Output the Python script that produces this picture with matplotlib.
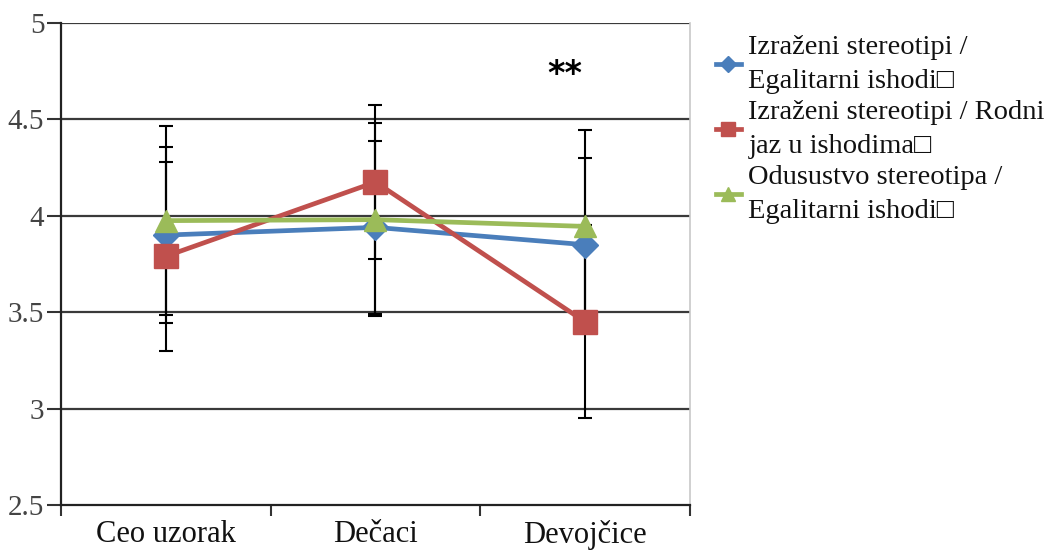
import matplotlib
matplotlib.use("Agg")
import matplotlib.pyplot as plt
import numpy as np

categories = ["Ceo uzorak", "Dečaci", "Devojčice"]
series_names = [
    "Izraženi stereotipi /\nEgalitarni ishodi\u25a1",
    "Izraženi stereotipi / Rodni\njaz u ishodima\u25a1",
    "Odusustvo stereotipa /\nEgalitarni ishodi\u25a1",
]
blue_vals = [3.90, 3.94, 3.85]
blue_err = [0.455, 0.45, 0.45]
red_vals = [3.79, 4.175, 3.45]
red_err = [0.49, 0.40, 0.50]
green_vals = [3.975, 3.98, 3.945]
green_err = [0.49, 0.50, 0.50]
y_ticks = [2.5, 3, 3.5, 4, 4.5, 5]
y_tick_labels = ["2.5", "3", "3.5", "4", "4.5", "5"]
annotation = "**"

serif = ["Liberation Serif", "DejaVu Serif"]
plt.rcParams["font.family"] = serif

fig = plt.figure(figsize=(10.54, 5.53), dpi=100)
ax = fig.add_axes([0.0579, 0.0868, 0.5967, 0.8716])

x = np.arange(len(categories))
colors = ["#4a7ebb", "#c0504d", "#9bbb59"]
markers = ["D", "s", "^"]
msizes = [13, 17, 16]
vals = [blue_vals, red_vals, green_vals]
errs = [blue_err, red_err, green_err]

for v, e in zip(vals, errs):
    ax.errorbar(x, v, yerr=e, fmt="none", ecolor="black", elinewidth=1.5,
                capsize=5, capthick=1.5, zorder=3)
handles = []
for v, c, m, ms, name in zip(vals, colors, markers, msizes, series_names):
    h, = ax.plot(x, v, color=c, marker=m, markersize=ms, linewidth=3.4,
                 markeredgecolor=c, label=name, zorder=4)
    handles.append(h)

ax.set_xlim(-0.5, 2.5)
ax.set_ylim(2.5, 5)
ax.set_yticks(y_ticks)
ax.set_yticklabels(y_tick_labels)
for yv in y_ticks[1:]:
    ax.axhline(yv, color="#3a3a3a", linewidth=1.6, zorder=1)

ax.set_xticks([-0.5, 0.5, 1.5, 2.5])
ax.set_xticklabels([])
ax.set_xticks(x, minor=True)
ax.set_xticklabels(categories, minor=True)
ax.tick_params(axis="x", which="major", direction="out", length=8, width=1.5, color="#333333")
ax.tick_params(axis="x", which="minor", length=0, pad=11, labelsize=22, labelcolor="#111111")
ax.tick_params(axis="y", direction="out", length=10, width=1.5, color="#333333",
               labelsize=21, labelcolor="#444444", pad=2)

for s in ["left", "bottom"]:
    ax.spines[s].set_color("#222222")
    ax.spines[s].set_linewidth(1.6)
ax.spines["top"].set_visible(False)
ax.spines["right"].set_color("#c8c8c8")
ax.spines["right"].set_linewidth(1.2)

ax.text(1.905, 4.735, annotation, fontsize=24, ha="center", va="center",
        family="DejaVu Sans", fontweight="bold", color="black")

leg = fig.legend(handles=handles, loc="upper left", bbox_to_anchor=(0.660, 0.972),
                 frameon=False, fontsize=20.5, handlelength=0.9, handletextpad=0.25,
                 labelspacing=0.22, markerscale=0.6, borderaxespad=0.3)
for t in leg.get_texts():
    t.set_linespacing(1.45)
    t.set_color("#111111")

fig.savefig("out.png", dpi=100)
